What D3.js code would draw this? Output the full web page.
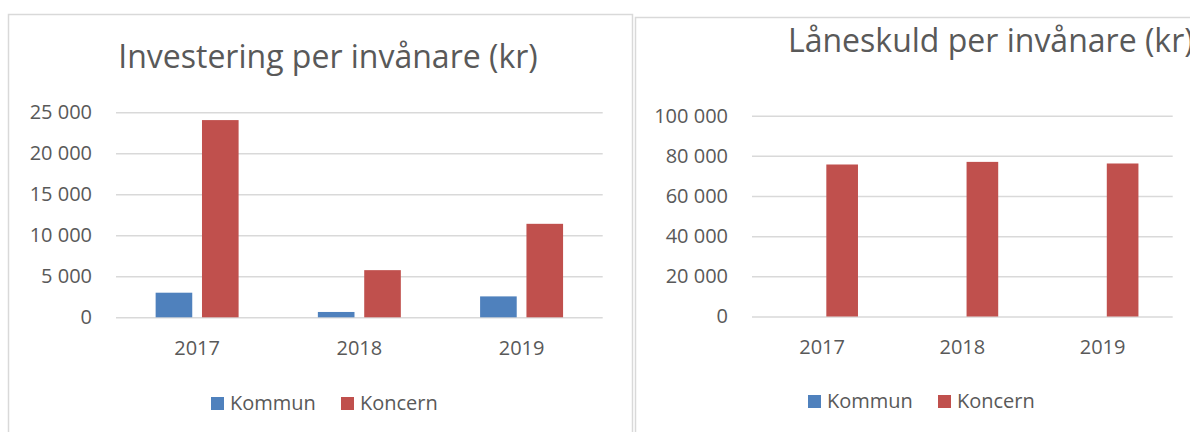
<!DOCTYPE html>
<html>
<head>
<meta charset="utf-8">
<script src="https://cdn.jsdelivr.net/npm/d3@7"></script>
<style>
  body { margin: 0; background: #fff; }
  text { font-family: "Open Sans", sans-serif; fill: #595959; }
</style>
</head>
<body>
<div id="chart"></div>
<script>
// data
var years = ["2017", "2018", "2019"];
var seriesNames = ["Kommun", "Koncern"];
var seriesColors = ["#4f81bd", "#c0504d"];

var invKommun = [3000, 650, 2550];
var invKoncern = [24050, 5750, 11400];
var invTicks = [0, 5000, 10000, 15000, 20000, 25000];

var skuldKommun = [0, 0, 0];
var skuldKoncern = [75700, 77000, 76200];
var skuldTicks = [0, 20000, 40000, 60000, 80000, 100000];

var svgWidth = 1190;
var svgHeight = 432;

var fmt = d3.formatLocale({ decimal: ",", thousands: " ", grouping: [3], currency: ["", " kr"] }).format(",");

var svg = d3.select("#chart")
  .append("svg")
  .attr("width", svgWidth)
  .attr("height", svgHeight);

function drawChart(opt) {
  var g = svg.append("g");

  // chart area frame
  g.append("rect")
    .attr("x", opt.box[0]).attr("y", opt.box[1])
    .attr("width", opt.box[2]).attr("height", opt.box[3])
    .attr("fill", "#fff")
    .attr("stroke", "#d9d9d9")
    .attr("stroke-width", 1.5);

  var x = d3.scaleBand().domain(years).range([opt.left, opt.right]);
  var xSub = d3.scaleBand().domain(seriesNames).range([0, x.bandwidth()])
    .paddingInner(0.21).paddingOuter(0.855);
  var y = d3.scaleLinear().domain([0, d3.max(opt.ticks)]).range([opt.bottom, opt.top]);

  // gridlines
  var grid = g.append("g")
    .attr("transform", "translate(" + opt.left + ",0)")
    .call(d3.axisLeft(y).tickValues(opt.ticks).tickSize(-(opt.right - opt.left)).tickFormat(""));
  grid.select(".domain").remove();
  grid.selectAll("line").attr("stroke", "#d9d9d9").attr("stroke-width", 1.5);

  // y labels
  var yAxis = g.append("g")
    .attr("transform", "translate(" + (opt.left - 24) + ",0)")
    .call(d3.axisLeft(y).tickValues(opt.ticks).tickSize(0).tickPadding(0).tickFormat(fmt));
  yAxis.select(".domain").remove();
  yAxis.selectAll("text")
    .style("font-family", "'Open Sans', sans-serif")
    .style("font-size", "20px")
    .attr("fill", "#595959");

  // x labels
  var xAxis = g.append("g")
    .attr("transform", "translate(0," + opt.bottom + ")")
    .call(d3.axisBottom(x).tickSize(0).tickPadding(opt.xLabelPad));
  xAxis.select(".domain").remove();
  xAxis.selectAll("text")
    .style("font-family", "'Open Sans', sans-serif")
    .style("font-size", "20px")
    .attr("fill", "#595959");

  // bars
  var rows = years.map(function(yr, i) {
    return { year: yr, values: [opt.values[0][i], opt.values[1][i]] };
  });

  var groups = g.selectAll(".grp")
    .data(rows)
    .enter()
    .append("g")
    .attr("class", "grp")
    .attr("transform", d => "translate(" + x(d.year) + ",0)");

  groups.selectAll("rect")
    .data(d => d.values.map((v, j) => ({ name: seriesNames[j], value: v, color: seriesColors[j] })))
    .enter()
    .append("rect")
    .attr("x", d => xSub(d.name))
    .attr("width", xSub.bandwidth())
    .attr("y", d => y(d.value))
    .attr("height", d => opt.bottom - y(d.value))
    .attr("fill", d => d.color);

  // title
  g.append("text")
    .attr("x", opt.titleX)
    .attr("y", opt.titleY)
    .attr("text-anchor", opt.titleAnchor)
    .style("font-size", "32px")
    .text(opt.title);

  // legend
  var leg = g.append("g").attr("transform", "translate(" + opt.legendX + "," + opt.legendY + ")");
  var offsets = [0, 130];
  seriesNames.forEach(function(name, j) {
    leg.append("rect")
      .attr("x", offsets[j]).attr("y", -13)
      .attr("width", 13).attr("height", 13)
      .attr("fill", seriesColors[j]);
    leg.append("text")
      .attr("x", offsets[j] + 19)
      .attr("y", 0)
      .style("font-size", "20px")
      .text(name);
  });
}

drawChart({
  box: [8.5, 14.5, 624, 440],
  left: 116, right: 602.7, top: 112.3, bottom: 317.3,
  ticks: invTicks,
  values: [invKommun, invKoncern],
  xLabelPad: 24,
  title: "Investering per invånare (kr)",
  titleX: 328, titleY: 68, titleAnchor: "middle",
  legendX: 211, legendY: 410
});

drawChart({
  box: [635.5, 17.5, 600, 440],
  left: 752, right: 1172.7, top: 115.7, bottom: 316.5,
  ticks: skuldTicks,
  values: [skuldKommun, skuldKoncern],
  xLabelPad: 23,
  title: "Låneskuld per invånare (kr)",
  titleX: 788, titleY: 52, titleAnchor: "start",
  legendX: 808, legendY: 408
});
</script>
</body>
</html>
